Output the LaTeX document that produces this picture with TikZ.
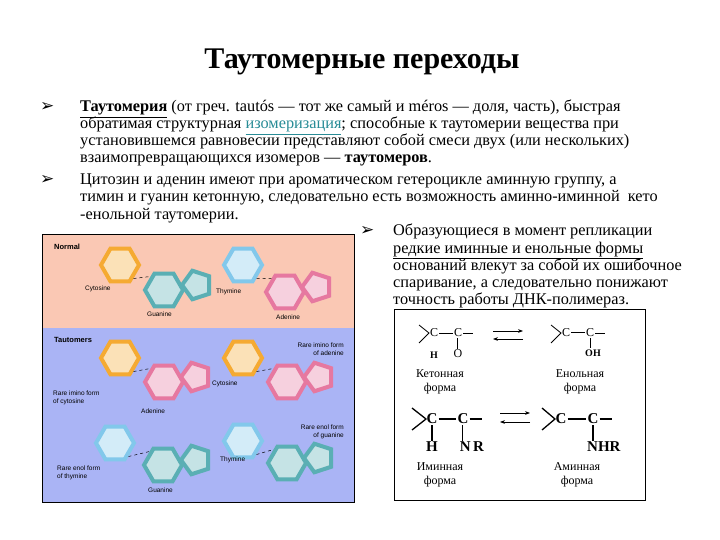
\documentclass[tikz,border=0pt]{standalone}
\usepackage{fontspec}
\setmainfont{Liberation Serif}
\newfontfamily\djfont{DejaVu Sans}
\setsansfont{Liberation Sans}
\usetikzlibrary{shapes.geometric,arrows.meta}
\definecolor{pinkbg}{RGB}{250,200,180}
\definecolor{bluebg}{RGB}{170,180,245}
\definecolor{corange}{RGB}{245,170,50}
\definecolor{cteal}{RGB}{90,175,180}
\definecolor{cblue}{RGB}{130,200,235}
\definecolor{cpink}{RGB}{230,120,160}
\definecolor{linkc}{RGB}{40,140,150}
\tikzset{
 txt/.style={anchor=base west,inner sep=0,font=\fontsize{16.3}{17}\selectfont},
 bmark/.style={anchor=base west,inner sep=0,font=\djfont\fontsize{17}{17}\selectfont},
 hex/.style={regular polygon,regular polygon sides=6,minimum size=38pt,draw=#1,line width=4pt,fill=#1!35,inner sep=0},
 pent/.style={regular polygon,regular polygon sides=5,minimum size=30pt,draw=#1,line width=4pt,fill=#1!35,inner sep=0,shape border rotate=90},
 lab/.style={font=\sffamily\fontsize{6.5}{8}\selectfont,inner sep=0,align=left,anchor=west},
 hd/.style={font=\sffamily\bfseries\fontsize{7.5}{8}\selectfont,inner sep=0,anchor=west},
 chem/.style={font=\fontsize{12}{12}\selectfont,inner sep=1pt},
 chemb/.style={font=\bfseries\fontsize{15}{15}\selectfont,inner sep=1pt},
 capt/.style={font=\fontsize{12}{14}\selectfont,align=center,inner sep=0},
 bond/.style={line width=0.8pt},
 eq/.style={line width=1pt,-{Stealth[length=5pt]}}
}
\begin{document}
\begin{tikzpicture}[x=1pt,y=-1pt]
\useasboundingbox (0,0) rectangle (720,540);
\fill[white] (0,0) rectangle (720,540);
\node[font=\bfseries\fontsize{30}{32}\selectfont,inner sep=0] (title) at (362,62) {Таутомерные переходы};
% bullet 1
\node[bmark] (m1) at (40,112) {➢};
\node[txt] (l1) at (80,112) {\textbf{\underline{Таутомерия}} (от греч. tautós — тот же самый и méros — доля, часть), быстрая};
\node[txt] (l2) at (80,129) {обратимая структурная \textcolor{linkc}{\underline{изомеризация}}; способные к таутомерии вещества при};
\node[txt] (l3) at (80,146) {установившемся равновесии представляют собой смеси двух (или нескольких)};
\node[txt] (l4) at (80,163) {взаимопревращающихся изомеров — \textbf{таутомеров}.};
% bullet 2
\node[bmark] (m2) at (40,185) {➢};
\node[txt] (l5) at (80,185) {Цитозин и аденин имеют при ароматическом гетероцикле аминную группу, а};
\node[txt] (l6) at (80,202) {тимин и гуанин кетонную, следовательно есть возможность аминно-иминной \ кето};
\node[txt] (l7) at (80,219) {-енольной таутомерии.};
% bullet 3
\node[bmark] (m3) at (360,236) {➢};
\node[txt] (r1) at (393,236) {Образующиеся в момент репликации};
\node[txt] (r2) at (393,253) {\underline{редкие иминные и енольные формы}};
\node[txt] (r3) at (393,270) {оснований влекут за собой их ошибочное};
\node[txt] (r4) at (393,287) {спаривание, а следовательно понижают};
\node[txt] (r5) at (393,304) {точность работы ДНК-полимераз.};
% image
\fill[pinkbg] (42,234) rectangle (354,328);
\fill[bluebg] (42,328) rectangle (354,502);
\draw[line width=0.6pt] (42,234) rectangle (354,502);
\node[hd] (hn) at (54,247) {Normal};
\node[hd] (ht) at (54,340) {Tautomers};
% normal pair 1
\node[hex=corange] (c1) at (120,265) {};
\node[hex=cteal] (g1) at (164,290) {};
\node[pent=cteal] (g1p) at (197,285) {};
\node[lab] (c1l) at (85,289) {Cytosine};
\node[lab] (g1l) at (147,314) {Guanine};
% normal pair 2
\node[hex=cblue] (t1) at (243,265) {};
\node[hex=cpink] (a1) at (285,292) {};
\node[pent=cpink] (a1p) at (317,287) {};
\node[lab] (t1l) at (216,292) {Thymine};
\node[lab] (a1l) at (276,317) {Adenine};
% tautomers
\node[hex=corange] (c2) at (120,358) {};
\node[hex=cpink] (a2) at (164,382) {};
\node[pent=cpink] (a2p) at (196,377) {};
\node[lab] (c2l) at (53,398) {Rare imino form\\of cytosine};
\node[lab] (a2l) at (141,411) {Adenine};
\node[hex=corange] (c3) at (243,358) {};
\node[hex=cpink] (a3) at (287,382) {};
\node[pent=cpink] (a3p) at (319,377) {};
\node[lab] (c3l) at (212,384) {Cytosine};
\node[lab,align=right,anchor=east] (a3l) at (344,349) {Rare imino form\\of adenine};
\node[hex=cblue] (t2) at (115,443) {};
\node[hex=cteal] (g2) at (163,465) {};
\node[pent=cteal] (g2p) at (196,460) {};
\node[lab] (t2l) at (57,473) {Rare enol form\\of thymine};
\node[lab] (g2l) at (148,490) {Guanine};
\node[hex=cblue] (t3) at (243,441) {};
\node[hex=cteal] (g3) at (287,463) {};
\node[pent=cteal] (g3p) at (319,458) {};
\node[lab] (t3l) at (220,460) {Thymine};
\node[lab,align=right,anchor=east] (g3l) at (344,432) {Rare enol form\\of guanine};
% hydrogen bonds
\foreach \a/\b in {c1/g1,t1/a1,c2/a2,c3/a3,t2/g2,t3/g3}
 \draw[dashed,line width=0.5pt] (\a.south east) -- (\b.north west);
% chem box
\draw[line width=0.8pt] (394,309) rectangle (645,500);
% ketone
\node[chem] (kc1) at (434,333) {C};
\node[chem] (kc2) at (458,333) {C};
\draw[bond] (419,325) -- (429,333) -- (419,343);
\draw[bond] (kc1) -- (kc2); \draw[bond] (kc2.east) -- +(10,0);
\node[chem,font=\bfseries\fontsize{10}{10}\selectfont] (kh) at (434,355) {H};
\node[chem] (ko) at (458,354) {O};
\draw[bond,double] (kc2) -- (ko);
\node[capt] (kl) at (440,382) {Кетонная\\форма};
\coordinate (e1a) at (493,331); \coordinate (e1b) at (523,331);
\coordinate (e2a) at (523,339); \coordinate (e2b) at (493,339);
\draw[eq] (e1a) -- (e1b); \draw[eq] (e2a) -- (e2b);
% enol
\node[chem] (ec1) at (566,333) {C};
\node[chem] (ec2) at (590,333) {C};
\draw[bond] (551,325) -- (561,333) -- (551,343);
\draw[bond,double] (ec1) -- (ec2); \draw[bond] (ec2.east) -- +(10,0);
\node[chem,font=\bfseries\fontsize{10}{10}\selectfont] (eoh) at (593,353) {OH};
\draw[bond] (ec2) -- (ec2 |- eoh.north);
\node[capt] (el) at (580,382) {Енольная\\форма};
% imine
\node[chemb] (ic1) at (432,419) {C};
\node[chemb] (ic2) at (463,419) {C};
\draw[line width=1.3pt] (412,408) -- (426,419) -- (412,430);
\draw[line width=1.3pt] (ic1) -- (ic2); \draw[line width=1.3pt] (ic2.east) -- +(12,0);
\node[chemb] (ih) at (432,447) {H};
\node[chemb] (inr) at (472,447) {N\,R};
\draw[line width=1.2pt] (ic1) -- (ih);
\draw[line width=1pt,double] (ic2) -- (ic2 |- inr.north);
\node[capt] (il) at (440,475) {Иминная\\форма};
\coordinate (f1a) at (500,413); \coordinate (f1b) at (530,413);
\coordinate (f2a) at (530,422); \coordinate (f2b) at (500,422);
\draw[eq] (f1a) -- (f1b); \draw[eq] (f2a) -- (f2b);
% amine
\node[chemb] (ac1) at (561,419) {C};
\node[chemb] (ac2) at (593,419) {C};
\draw[line width=1.3pt] (542,408) -- (555,419) -- (542,430);
\draw[line width=1.3pt] (ac1) -- (ac2); \draw[line width=1.3pt] (ac2.east) -- +(12,0);
\node[chemb,anchor=west] (anhr) at (586,447) {NHR};
\draw[line width=1.2pt] (ac2) -- (ac2 |- anhr.north);
\node[capt] (al) at (577,475) {Аминная\\форма};
\end{tikzpicture}
\end{document}
